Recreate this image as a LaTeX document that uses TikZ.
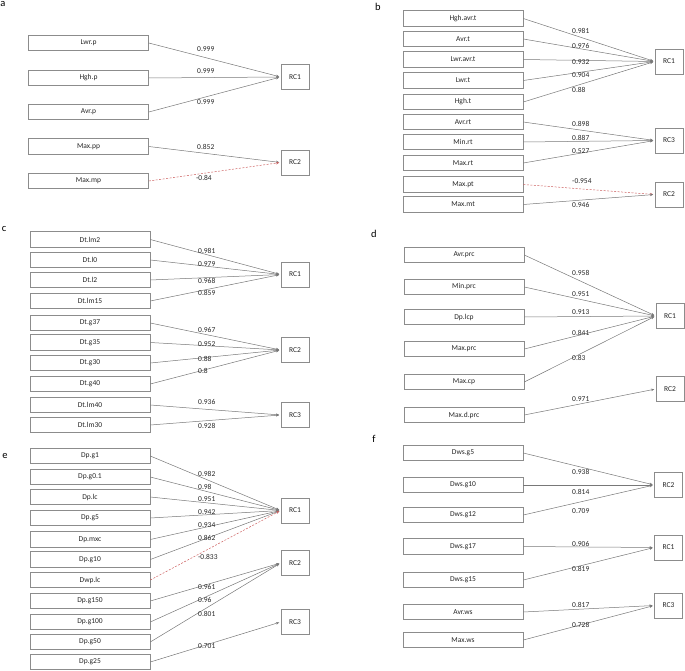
\documentclass[tikz,border=0pt]{standalone}
\usepackage{fontspec}
\setmainfont{Carlito}
\usetikzlibrary{arrows.meta}
\definecolor{negc}{RGB}{205,95,95}
\definecolor{edgec}{RGB}{120,120,120}
\definecolor{boxc}{RGB}{140,140,140}
\tikzset{
  var/.style={draw=boxc, line width=0.6pt, minimum width=120pt, minimum height=15.5pt, inner sep=0pt,
    font=\fontsize{7.5}{9}\selectfont, text=black!85},
  rc/.style={draw=boxc, line width=0.6pt, minimum width=28pt, minimum height=25pt, inner sep=0pt,
    font=\fontsize{7.5}{9}\selectfont, text=black!85},
  load/.style={draw=edgec, line width=0.5pt, -{Stealth[length=3.2pt,width=2.6pt]}, shorten >=1.5pt},
  neg/.style={draw=negc, line width=0.5pt, dash pattern=on 2pt off 1.5pt, -{Stealth[length=3.2pt,width=2.6pt]}, shorten >=1.5pt},
  wt/.style={anchor=west, inner sep=0pt, font=\fontsize{7.5}{9}\selectfont, text=black!85},
  panel/.style={inner sep=0pt, font=\fontsize{10.5}{12}\selectfont, text=black}
}
\newcommand\myvb[4]{\node[var] (#1) at (#2,#3) {#4};}
\newcommand\myrcb[4]{\node[rc] (#1) at (#2,#3) {#4};}
\newcommand\myld[5]{\draw[load] (#1.east) -- (#2.west); \node[wt] (#3) at (#4) {#5};}
\newcommand\myng[5]{\draw[neg] (#1.east) -- (#2.west); \node[wt] (#3) at (#4) {#5};}
\begin{document}
\begin{tikzpicture}[x=1pt,y=-1pt]
\useasboundingbox (0,0) rectangle (685,671);
% ---------- panel a ----------
\node[panel] (pa) at (3,4) {a};
\myvb{a1}{88.5}{43}{Lwr.p}
\myvb{a2}{88.5}{78}{Hgh.p}
\myvb{a3}{88.5}{112}{Avr.p}
\myvb{a4}{88.5}{146.5}{Max.pp}
\myvb{a5}{88.5}{181}{Max.mp}
\myrcb{aR1}{295}{77}{RC1}
\myrcb{aR2}{295}{162.5}{RC2}
\myld{a1}{aR1}{la1}{197,49.5}{0.999}
\myld{a2}{aR1}{la2}{197,71.5}{0.999}
\myld{a3}{aR1}{la3}{197,102.5}{0.999}
\myld{a4}{aR2}{la4}{197,146.5}{0.852}
\myng{a5}{aR2}{la5}{196,177.5}{-0.84}
% ---------- panel b ----------
\node[panel] (pb) at (378,7) {b};
\myvb{b1}{463}{18.5}{Hgh.avr.t}
\myvb{b2}{463}{39}{Avr.t}
\myvb{b3}{463}{59.5}{Lwr.avr.t}
\myvb{b4}{463}{80.5}{Lwr.t}
\myvb{b5}{463}{102}{Hgh.t}
\myvb{b6}{463}{122}{Avr.rt}
\myvb{b7}{463}{142}{Min.rt}
\myvb{b8}{463}{163}{Max.rt}
\myvb{b9}{463}{184.5}{Max.pt}
\myvb{b10}{463}{204.5}{Max.mt}
\myrcb{bR1}{669}{61.5}{RC1}
\myrcb{bR3}{669}{140.5}{RC3}
\myrcb{bR2}{669}{194.5}{RC2}
\myld{b1}{bR1}{lb1}{572,31}{0.981}
\myld{b2}{bR1}{lb2}{572,45.5}{0.976}
\myld{b3}{bR1}{lb3}{572,62}{0.932}
\myld{b4}{bR1}{lb4}{572,75.5}{0.904}
\myld{b5}{bR1}{lb5}{572,89.5}{0.88}
\myld{b6}{bR3}{lb6}{572,124}{0.898}
\myld{b7}{bR3}{lb7}{572,138}{0.887}
\myld{b8}{bR3}{lb8}{572,151}{0.527}
\myng{b9}{bR2}{lb9}{572,181.5}{-0.954}
\myld{b10}{bR2}{lb10}{572,205}{0.946}
% ---------- panel c ----------
\node[panel] (pc) at (4,229) {c};
\myvb{c1}{90}{239.5}{Dt.lm2}
\myvb{c2}{90}{260}{Dt.l0}
\myvb{c3}{90}{280}{Dt.l2}
\myvb{c4}{90}{301}{Dt.lm15}
\myvb{c5}{90}{323}{Dt.g37}
\myvb{c6}{90}{342.5}{Dt.g35}
\myvb{c7}{90}{363}{Dt.g30}
\myvb{c8}{90}{384}{Dt.g40}
\myvb{c9}{90}{405}{Dt.lm40}
\myvb{c10}{90}{425}{Dt.lm30}
\myrcb{cR1}{295}{274.5}{RC1}
\myrcb{cR2}{295}{350}{RC2}
\myrcb{cR3}{295}{415}{RC3}
\myld{c1}{cR1}{lc1}{198,250.5}{0.981}
\myld{c2}{cR1}{lc2}{198,264}{0.979}
\myld{c3}{cR1}{lc3}{198,281}{0.968}
\myld{c4}{cR1}{lc4}{198,293}{0.859}
\myld{c5}{cR2}{lc5}{198,330}{0.967}
\myld{c6}{cR2}{lc6}{198,344.5}{0.952}
\myld{c7}{cR2}{lc7}{198,359}{0.88}
\myld{c8}{cR2}{lc8}{198,371}{0.8}
\myld{c9}{cR3}{lc9}{198,402}{0.936}
\myld{c10}{cR3}{lc10}{198,425.5}{0.928}
% ---------- panel d ----------
\node[panel] (pd) at (374,234) {d};
\myvb{d1}{464}{255}{Avr.prc}
\myvb{d2}{464}{287}{Min.prc}
\myvb{d3}{464}{317}{Dp.lcp}
\myvb{d4}{464}{349}{Max.prc}
\myvb{d5}{464}{382}{Max.cp}
\myvb{d6}{464}{415}{Max.d.prc}
\myrcb{dR1}{670}{316}{RC1}
\myrcb{dR2}{670}{389}{RC2}
\myld{d1}{dR1}{ld1}{572,273}{0.958}
\myld{d2}{dR1}{ld2}{572,294}{0.951}
\myld{d3}{dR1}{ld3}{572,312}{0.913}
\myld{d4}{dR1}{ld4}{572,333}{0.841}
\myld{d5}{dR1}{ld5}{572,358}{0.83}
\myld{d6}{dR2}{ld6}{572,399}{0.971}
% ---------- panel e ----------
\node[panel] (pe) at (5,456) {e};
\myvb{e1}{90}{456}{Dp.g1}
\myvb{e2}{90}{477}{Dp.g0.1}
\myvb{e3}{90}{497}{Dp.lc}
\myvb{e4}{90}{518}{Dp.g5}
\myvb{e5}{90}{539.5}{Dp.mxc}
\myvb{e6}{90}{559.5}{Dp.g10}
\myvb{e7}{90}{580}{Dwp.lc}
\myvb{e8}{90}{601}{Dp.g150}
\myvb{e9}{90}{622}{Dp.g100}
\myvb{e10}{90}{642}{Dp.g50}
\myvb{e11}{90}{662}{Dp.g25}
\myrcb{eR1}{295}{510.5}{RC1}
\myrcb{eR2}{295}{563}{RC2}
\myrcb{eR3}{295}{622}{RC3}
\myld{e1}{eR1}{le1}{198,474}{0.982}
\myld{e2}{eR1}{le2}{198,487}{0.98}
\myld{e3}{eR1}{le3}{198,499}{0.951}
\myld{e4}{eR1}{le4}{198,512}{0.942}
\myld{e5}{eR1}{le5}{198,525}{0.934}
\myld{e6}{eR1}{le6}{198,538}{0.862}
\myng{e7}{eR1}{le7}{198,557}{-0.833}
\myld{e8}{eR2}{le8}{198,587}{0.961}
\myld{e9}{eR2}{le9}{198,599.5}{0.96}
\myld{e10}{eR2}{le10}{198,614}{0.801}
\myld{e11}{eR3}{le11}{198,646}{0.701}
% ---------- panel f ----------
\node[panel] (pf) at (374,439) {f};
\myvb{f1}{463}{453}{Dws.g5}
\myvb{f2}{463}{485}{Dws.g10}
\myvb{f3}{463}{515}{Dws.g12}
\myvb{f4}{463}{546.5}{Dws.g17}
\myvb{f5}{463}{580}{Dws.g15}
\myvb{f6}{463}{612}{Avr.ws}
\myvb{f7}{463}{640}{Max.ws}
\myrcb{fR2}{668.5}{485}{RC2}
\myrcb{fR1}{668.5}{547.5}{RC1}
\myrcb{fR3}{668.5}{605.5}{RC3}
\myld{f1}{fR2}{lf1}{572,472}{0.938}
\myld{f2}{fR2}{lf2}{572,492}{0.814}
\myld{f3}{fR2}{lf3}{572,511}{0.709}
\myld{f4}{fR1}{lf4}{572,544}{0.906}
\myld{f5}{fR1}{lf5}{572,569}{0.819}
\myld{f6}{fR3}{lf6}{572,605}{0.817}
\myld{f7}{fR3}{lf7}{572,625}{0.728}
\end{tikzpicture}
\end{document}
